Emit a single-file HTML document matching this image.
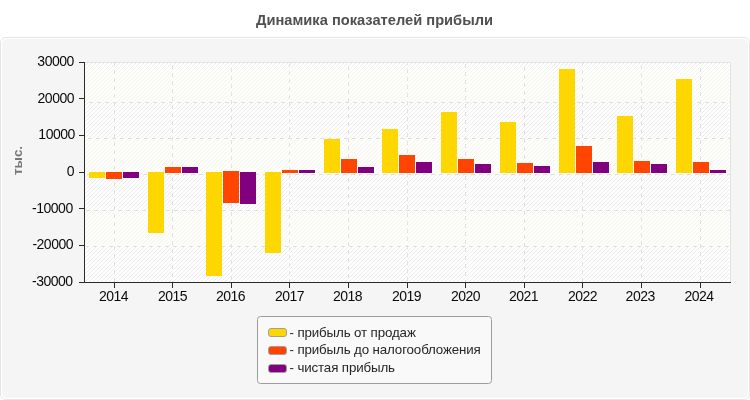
<!DOCTYPE html>
<html><head><meta charset="utf-8"><title>Динамика показателей прибыли</title>
<style>
html,body{margin:0;padding:0;background:#fff;}
body{width:750px;height:400px;overflow:hidden;}
svg{display:block;}
text{font-family:"Liberation Sans",sans-serif;}
.ax{font-size:14px;fill:#0a0a0a;letter-spacing:-0.5px;}
.lg{font-size:13.33px;fill:#262626;letter-spacing:-0.13px;}
</style></head><body>
<svg width="750" height="400" viewBox="0 0 750 400">
<defs>
<pattern id="st" width="4" height="4" patternUnits="userSpaceOnUse" x="0" y="0">
<path d="M0,2h1v1h-1z M1,1h1v1h-1z M2,0h1v1h-1z M3,3h1v1h-1z" fill="#f4f4ee" shape-rendering="crispEdges"/>
</pattern>
<pattern id="sw" width="4" height="4" patternUnits="userSpaceOnUse" x="0" y="0">
<rect width="4" height="4" fill="#ffffff"/>
<path d="M0,2h1v1h-1z M1,1h1v1h-1z M2,0h1v1h-1z M3,3h1v1h-1z" fill="#ececec" shape-rendering="crispEdges"/>
</pattern>
</defs>
<rect x="0" y="0" width="750" height="400" fill="#ffffff"/>
<text x="374.5" y="25" text-anchor="middle" style="font-size:14.67px;font-weight:bold;fill:#505050">Динамика показателей прибыли</text>
<rect x="0.5" y="37.5" width="749" height="362" rx="5.5" ry="5.5" fill="#ffffff" stroke="#e4e4e4"/>
<rect x="2" y="39" width="746" height="359" rx="5" ry="5" fill="#f5f5f5"/>

<rect x="85" y="62" width="646" height="220" fill="#fefefa"/>
<rect x="85" y="62" width="646" height="220" fill="url(#st)"/>
<rect x="86" y="63" width="644" height="4" fill="url(#sw)"/>
<rect x="86" y="103" width="644" height="36" fill="url(#sw)"/>
<rect x="86" y="175" width="644" height="36" fill="url(#sw)"/>
<rect x="86" y="247" width="644" height="35" fill="url(#sw)"/>
<path d="M85,62.5 H730.5 V282" fill="none" stroke="#e2e2e2" stroke-width="1"/>
<path d="M86,246.5H730 M86,210.5H730 M86,174.5H730 M86,138.5H730 M86,102.5H730 M114.5,62V282 M172.5,62V282 M231.5,62V282 M289.5,62V282 M348.5,62V282 M407.5,62V282 M465.5,62V282 M524.5,62V282 M582.5,62V282 M641.5,62V282 M700.5,62V282" fill="none" stroke="#ffffff" stroke-opacity="0.5" stroke-width="1" shape-rendering="crispEdges"/>
<path d="M86,246.5H730" fill="none" stroke="#e0e0e0" stroke-width="1" stroke-dasharray="4 4" stroke-dashoffset="1" shape-rendering="crispEdges"/>
<path d="M86,210.5H730" fill="none" stroke="#e0e0e0" stroke-width="1" stroke-dasharray="4 4" stroke-dashoffset="0" shape-rendering="crispEdges"/>
<path d="M86,174.5H730" fill="none" stroke="#e0e0e0" stroke-width="1" stroke-dasharray="4 4" stroke-dashoffset="7" shape-rendering="crispEdges"/>
<path d="M86,138.5H730" fill="none" stroke="#e0e0e0" stroke-width="1" stroke-dasharray="4 4" stroke-dashoffset="6" shape-rendering="crispEdges"/>
<path d="M86,102.5H730" fill="none" stroke="#e0e0e0" stroke-width="1" stroke-dasharray="4 4" stroke-dashoffset="5" shape-rendering="crispEdges"/>
<path d="M114.5,62V282" fill="none" stroke="#e2e2e2" stroke-width="1" stroke-dasharray="4 4" stroke-dashoffset="0" shape-rendering="crispEdges"/>
<path d="M172.5,62V282" fill="none" stroke="#e2e2e2" stroke-width="1" stroke-dasharray="4 4" stroke-dashoffset="5" shape-rendering="crispEdges"/>
<path d="M231.5,62V282" fill="none" stroke="#e2e2e2" stroke-width="1" stroke-dasharray="4 4" stroke-dashoffset="2" shape-rendering="crispEdges"/>
<path d="M289.5,62V282" fill="none" stroke="#e2e2e2" stroke-width="1" stroke-dasharray="4 4" stroke-dashoffset="7" shape-rendering="crispEdges"/>
<path d="M348.5,62V282" fill="none" stroke="#e2e2e2" stroke-width="1" stroke-dasharray="4 4" stroke-dashoffset="4" shape-rendering="crispEdges"/>
<path d="M407.5,62V282" fill="none" stroke="#e2e2e2" stroke-width="1" stroke-dasharray="4 4" stroke-dashoffset="1" shape-rendering="crispEdges"/>
<path d="M465.5,62V282" fill="none" stroke="#e2e2e2" stroke-width="1" stroke-dasharray="4 4" stroke-dashoffset="6" shape-rendering="crispEdges"/>
<path d="M524.5,62V282" fill="none" stroke="#e2e2e2" stroke-width="1" stroke-dasharray="4 4" stroke-dashoffset="3" shape-rendering="crispEdges"/>
<path d="M582.5,62V282" fill="none" stroke="#e2e2e2" stroke-width="1" stroke-dasharray="4 4" stroke-dashoffset="0" shape-rendering="crispEdges"/>
<path d="M641.5,62V282" fill="none" stroke="#e2e2e2" stroke-width="1" stroke-dasharray="4 4" stroke-dashoffset="5" shape-rendering="crispEdges"/>
<path d="M700.5,62V282" fill="none" stroke="#e2e2e2" stroke-width="1" stroke-dasharray="4 4" stroke-dashoffset="2" shape-rendering="crispEdges"/>
<rect x="89" y="172" width="16" height="6" fill="#ffd700" shape-rendering="crispEdges"/>
<rect x="106" y="172" width="16" height="7" fill="#ff4500" shape-rendering="crispEdges"/>
<rect x="123" y="172" width="16" height="6" fill="#800080" shape-rendering="crispEdges"/>
<rect x="148" y="172" width="16" height="61" fill="#ffd700" shape-rendering="crispEdges"/>
<rect x="165" y="167" width="16" height="6" fill="#ff4500" shape-rendering="crispEdges"/>
<rect x="182" y="167" width="16" height="6" fill="#800080" shape-rendering="crispEdges"/>
<rect x="206" y="172" width="16" height="104" fill="#ffd700" shape-rendering="crispEdges"/>
<rect x="223" y="171" width="16" height="32" fill="#ff4500" shape-rendering="crispEdges"/>
<rect x="240" y="172" width="16" height="32" fill="#800080" shape-rendering="crispEdges"/>
<rect x="265" y="172" width="16" height="81" fill="#ffd700" shape-rendering="crispEdges"/>
<rect x="282" y="170" width="16" height="3" fill="#ff4500" shape-rendering="crispEdges"/>
<rect x="299" y="170" width="16" height="3" fill="#800080" shape-rendering="crispEdges"/>
<rect x="324" y="139" width="16" height="34" fill="#ffd700" shape-rendering="crispEdges"/>
<rect x="341" y="159" width="16" height="14" fill="#ff4500" shape-rendering="crispEdges"/>
<rect x="358" y="167" width="16" height="6" fill="#800080" shape-rendering="crispEdges"/>
<rect x="382" y="129" width="16" height="44" fill="#ffd700" shape-rendering="crispEdges"/>
<rect x="399" y="155" width="16" height="18" fill="#ff4500" shape-rendering="crispEdges"/>
<rect x="416" y="162" width="16" height="11" fill="#800080" shape-rendering="crispEdges"/>
<rect x="441" y="112" width="16" height="61" fill="#ffd700" shape-rendering="crispEdges"/>
<rect x="458" y="159" width="16" height="14" fill="#ff4500" shape-rendering="crispEdges"/>
<rect x="475" y="164" width="16" height="9" fill="#800080" shape-rendering="crispEdges"/>
<rect x="500" y="122" width="16" height="51" fill="#ffd700" shape-rendering="crispEdges"/>
<rect x="517" y="163" width="16" height="10" fill="#ff4500" shape-rendering="crispEdges"/>
<rect x="534" y="166" width="16" height="7" fill="#800080" shape-rendering="crispEdges"/>
<rect x="559" y="69" width="16" height="104" fill="#ffd700" shape-rendering="crispEdges"/>
<rect x="576" y="146" width="16" height="27" fill="#ff4500" shape-rendering="crispEdges"/>
<rect x="593" y="162" width="16" height="11" fill="#800080" shape-rendering="crispEdges"/>
<rect x="617" y="116" width="16" height="57" fill="#ffd700" shape-rendering="crispEdges"/>
<rect x="634" y="161" width="16" height="12" fill="#ff4500" shape-rendering="crispEdges"/>
<rect x="651" y="164" width="16" height="9" fill="#800080" shape-rendering="crispEdges"/>
<rect x="676" y="79" width="16" height="94" fill="#ffd700" shape-rendering="crispEdges"/>
<rect x="693" y="162" width="16" height="11" fill="#ff4500" shape-rendering="crispEdges"/>
<rect x="710" y="170" width="16" height="3" fill="#800080" shape-rendering="crispEdges"/>
<path d="M84.5,62V283 M84,282.5H731 M79,62.5H85 M79,98.5H85 M79,135.5H85 M79,172.5H85 M79,208.5H85 M79,245.5H85 M79,282.5H85 M114.5,282V288 M172.5,282V288 M231.5,282V288 M289.5,282V288 M348.5,282V288 M407.5,282V288 M465.5,282V288 M524.5,282V288 M582.5,282V288 M641.5,282V288 M700.5,282V288" fill="none" stroke="#2a2a2a" stroke-width="1" shape-rendering="crispEdges"/>
<text class="ax" x="73.8" y="66" text-anchor="end">30000</text>
<text class="ax" x="74" y="103" text-anchor="end">20000</text>
<text class="ax" x="74.8" y="139" text-anchor="end">10000</text>
<text class="ax" x="74" y="176" text-anchor="end">0</text>
<text class="ax" x="72.7" y="213" text-anchor="end">-10000</text>
<text class="ax" x="73" y="249" text-anchor="end">-20000</text>
<text class="ax" x="72.6" y="286" text-anchor="end">-30000</text>
<text class="ax" x="113.5" y="301" text-anchor="middle">2014</text>
<text class="ax" x="172.5" y="301" text-anchor="middle">2015</text>
<text class="ax" x="230.5" y="301" text-anchor="middle">2016</text>
<text class="ax" x="289.5" y="301" text-anchor="middle">2017</text>
<text class="ax" x="347.5" y="301" text-anchor="middle">2018</text>
<text class="ax" x="406.5" y="301" text-anchor="middle">2019</text>
<text class="ax" x="465.5" y="301" text-anchor="middle">2020</text>
<text class="ax" x="523.5" y="301" text-anchor="middle">2021</text>
<text class="ax" x="582.5" y="301" text-anchor="middle">2022</text>
<text class="ax" x="640.2" y="301" text-anchor="middle">2023</text>
<text class="ax" x="699" y="301" text-anchor="middle">2024</text>
<text transform="translate(22,175) rotate(-90)" style="font-size:13.33px;font-weight:bold;fill:#787878">тыс.</text>
<rect x="257.5" y="316.5" width="234" height="67" rx="3" ry="3" fill="#f9f9f9" stroke="#9c9c9c"/>
<rect x="268.5" y="328.5" width="18" height="8" rx="2.5" ry="2.5" fill="#ffd700" stroke="#a0a0a0"/>
<text class="lg" x="289.5" y="336.6">- прибыль от продаж</text>
<rect x="268.5" y="346.5" width="18" height="8" rx="2.5" ry="2.5" fill="#ff4500" stroke="#a0a0a0"/>
<text class="lg" x="289.5" y="354.2">- прибыль до налогообложения</text>
<rect x="268.5" y="364.5" width="18" height="8" rx="2.5" ry="2.5" fill="#800080" stroke="#a0a0a0"/>
<text class="lg" x="289.5" y="372">- чистая прибыль</text>
</svg></body></html>
